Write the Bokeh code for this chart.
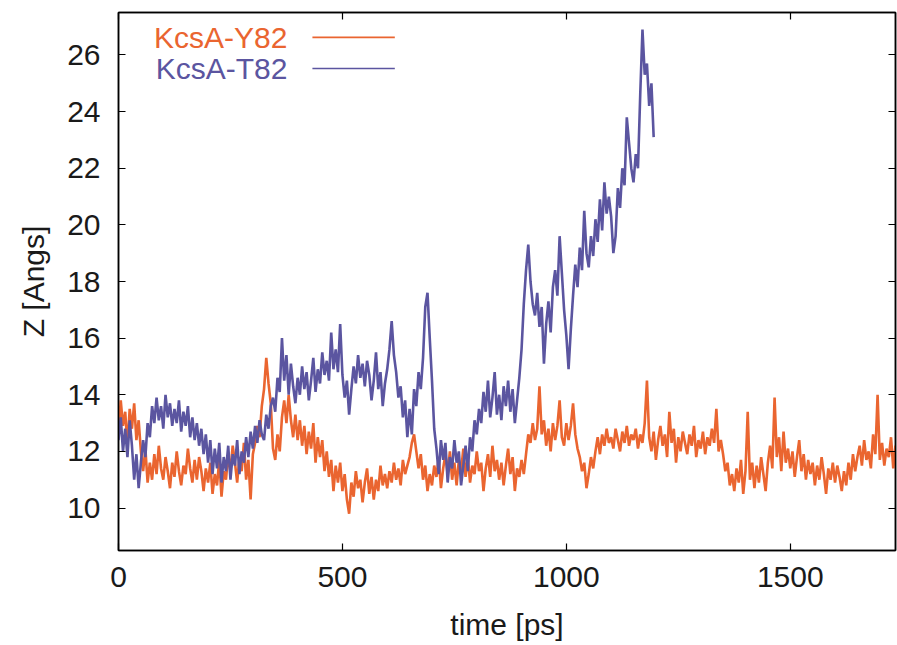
from bokeh.plotting import figure
from bokeh.models import LinearAxis, Range1d, FixedTicker, Label, Arrow
from bokeh.embed import file_html
from bokeh.resources import INLINE

# ---------------- data ----------------
step = 5  # ps
y82_values = [
    12.6,13.8,12.9,13.4,12.2,13.5,12.8,13.7,12.4,13.1,
    12.0,11.3,12.1,10.9,11.6,11.0,11.9,11.2,12.2,11.4,
    11.0,11.8,11.3,10.7,11.6,11.1,12.0,11.3,10.8,11.5,
    11.2,12.1,11.4,10.9,11.7,11.0,11.8,11.3,10.6,11.4,
    10.9,11.6,10.5,11.2,10.8,11.7,10.4,11.3,11.0,11.9,
    11.3,12.2,11.6,10.9,11.8,11.3,12.3,11.0,11.7,10.3,
    11.9,12.3,12.9,12.5,13.6,14.2,15.3,14.4,13.7,12.1,
    11.7,12.6,12.0,13.2,13.8,13.0,14.0,13.1,12.5,13.3,
    12.4,13.1,12.2,12.9,11.9,12.7,12.1,13.0,11.6,12.5,
    11.8,12.4,11.3,12.0,11.1,11.7,10.6,11.5,10.9,11.6,
    10.6,11.2,10.3,9.8,10.9,10.4,11.3,10.7,11.0,10.2,
    10.9,11.4,10.5,11.1,10.3,11.0,10.6,11.5,10.8,11.2,
    10.7,11.3,10.9,11.6,11.0,11.4,10.8,11.7,11.2,11.5,
    11.8,12.3,12.6,12.0,11.4,11.9,11.0,11.5,10.6,11.2,
    10.8,11.5,11.1,11.8,10.7,11.4,11.9,11.2,12.0,11.0,
    11.6,10.8,11.7,11.3,12.1,11.1,11.8,10.9,11.5,11.2,
    12.0,11.3,11.6,10.6,11.4,11.9,11.1,12.2,11.3,11.7,
    11.0,11.6,10.8,11.5,12.1,11.2,11.8,10.6,11.4,11.1,
    11.7,11.2,11.9,12.6,12.3,13.0,12.4,12.8,14.3,12.6,
    13.1,12.2,12.8,12.0,13.0,12.4,12.9,13.8,12.5,12.2,
    13.0,12.4,12.9,13.7,12.6,12.1,11.8,11.3,11.6,10.7,
    11.2,11.8,11.4,12.0,12.5,11.9,12.6,12.2,12.8,12.3,
    12.5,12.1,12.8,12.4,12.0,12.7,12.3,12.9,12.2,12.6,
    12.4,12.8,12.1,12.6,12.3,13.0,14.5,12.5,12.0,12.7,
    11.7,12.4,12.9,12.2,12.6,11.8,13.4,12.3,12.8,11.6,
    12.5,12.0,12.7,12.3,11.9,12.6,12.2,12.9,11.8,12.4,
    12.1,12.7,11.9,12.5,12.2,12.8,12.3,13.5,12.0,12.4,
    11.9,11.3,11.6,10.8,11.2,10.6,11.4,10.9,11.7,10.5,
    11.3,13.4,11.0,11.6,10.7,11.5,10.9,11.8,11.2,10.6,
    11.6,12.2,11.4,13.9,11.8,12.5,11.3,12.7,11.6,12.1,
    11.4,12.0,11.1,11.8,12.4,11.3,11.9,11.0,11.7,11.2,
    11.6,10.8,11.5,11.0,11.8,11.2,10.5,11.4,11.0,11.6,
    10.9,11.5,11.1,10.6,11.3,10.8,11.6,11.0,11.9,11.3,
    11.8,12.2,11.5,12.4,11.7,12.0,11.4,12.6,11.9,14.0,
    11.7,12.3,11.5,12.1,11.8,12.5,11.4,12.2,11.9,
]
t82_values = [
    12.4,13.2,12.0,12.8,11.8,13.1,12.2,11.0,11.9,10.7,
    11.6,12.4,11.8,13.0,12.5,13.6,13.0,13.9,13.1,13.6,
    12.8,14.0,13.2,13.7,12.9,13.5,13.0,13.8,12.7,13.4,
    12.9,13.6,12.5,13.2,12.4,13.0,12.2,12.8,11.9,12.6,
    11.6,12.4,11.2,12.1,11.4,12.3,10.9,11.8,11.3,12.2,
    11.0,11.9,11.5,12.4,11.2,12.0,11.6,12.5,11.8,12.7,
    12.1,12.9,12.3,13.1,12.6,12.4,13.3,12.8,13.6,13.9,
    13.4,14.6,14.1,16.0,14.5,15.4,14.0,15.1,14.3,13.7,
    14.6,14.0,15.0,14.2,14.8,13.8,14.5,15.3,14.1,14.9,
    14.4,15.5,14.7,15.2,14.5,16.2,14.9,15.6,14.8,16.5,
    14.7,13.9,14.5,13.3,14.2,15.0,14.4,15.4,14.6,15.1,
    14.3,15.2,14.7,13.8,14.5,15.5,14.2,14.8,13.6,14.4,
    14.9,15.6,16.6,15.4,14.8,13.9,14.3,13.2,13.8,12.5,
    13.5,12.6,14.2,13.6,14.8,14.2,15.3,17.1,17.6,16.0,
    14.5,12.8,12.1,11.2,12.4,11.7,12.3,10.9,11.8,11.4,
    12.4,11.6,12.0,10.8,11.5,12.2,11.3,12.5,12.0,13.1,
    12.6,13.5,13.0,14.1,13.4,14.5,13.2,13.9,14.8,13.3,
    14.0,13.1,14.3,13.6,14.5,13.4,14.2,13.0,13.8,14.6,
    15.6,17.2,18.4,19.3,18.0,17.2,16.8,17.6,16.4,17.1,
    15.1,16.5,17.3,16.2,17.8,18.4,17.5,19.6,18.3,17.0,
    16.1,14.9,16.3,17.5,18.6,17.8,19.2,18.4,20.5,19.0,
    18.5,19.6,18.9,20.2,19.4,20.9,19.8,21.5,20.4,21.0,
    20.3,19.0,19.6,21.3,20.6,22.0,21.4,23.8,22.9,22.0,
    21.5,22.5,22.0,24.6,26.9,25.3,25.7,24.2,25.0,23.1,
]
y82_time = [i * step for i in range(len(y82_values))]
t82_time = [i * step for i in range(len(t82_values))]

x_ticks = [0, 500, 1000, 1500]
y_ticks = [10, 12, 14, 16, 18, 20, 22, 24, 26]
series_names = ["KcsA-Y82", "KcsA-T82"]

ORANGE = "#EA6530"
BLUE = "#5B55A0"
FONT = "Liberation Sans"
FS = "30px"

p = figure(width=897, height=645, output_backend="svg", toolbar_location=None,
           x_range=Range1d(0, 1735), y_range=Range1d(8.5, 27.5),
           min_border_left=118, min_border_right=2, min_border_top=12,
           min_border_bottom=95)
p.background_fill_color = "white"
p.border_fill_color = "white"
p.outline_line_color = "black"
p.outline_line_width = 1.5
p.xgrid.visible = False
p.ygrid.visible = False

p.line(y82_time, y82_values, line_color=ORANGE, line_width=2.6)
p.line(t82_time, t82_values, line_color=BLUE, line_width=2.6)

def style(ax, labels=True):
    ax.axis_line_color = "black"
    ax.axis_line_width = 1.5
    ax.major_tick_in = 7
    ax.major_tick_out = 0
    ax.major_tick_line_color = "black"
    ax.major_tick_line_width = 1.2
    ax.minor_tick_line_color = None
    ax.major_label_text_font = FONT
    ax.major_label_text_font_size = FS
    ax.major_label_text_color = "#1a1a1a"
    ax.axis_label_text_font = FONT
    ax.axis_label_text_font_size = FS
    ax.axis_label_text_font_style = "normal"
    ax.axis_label_text_color = "#1a1a1a"
    if not labels:
        ax.major_label_text_font_size = "0px"
        ax.major_label_text_color = None

xa = p.xaxis[0]
xa.ticker = FixedTicker(ticks=x_ticks)
xa.axis_label = "time [ps]"
style(xa)
xa.major_label_standoff = 16
xa.axis_label_standoff = 18

ya = p.yaxis[0]
ya.ticker = FixedTicker(ticks=y_ticks)
ya.axis_label = "Z [Angs]"
style(ya)
ya.major_label_standoff = 18
ya.axis_label_standoff = 14

top = LinearAxis(ticker=FixedTicker(ticks=x_ticks))
style(top, labels=False)
p.add_layout(top, "above")
right = LinearAxis(ticker=FixedTicker(ticks=y_ticks))
style(right, labels=False)
p.add_layout(right, "right")

# legend (gnuplot style: text right-aligned, sample line to the right)
leg_y = [26.62, 25.52]
for name, col, yy in zip(series_names, [ORANGE, BLUE], leg_y):
    p.add_layout(Label(x=377, y=yy, text=name, text_align="right",
                       text_baseline="middle", text_font=FONT,
                       text_font_size=FS, text_color=col))
    p.add_layout(Arrow(x_start=433, y_start=yy, x_end=617, y_end=yy,
                       end=None, line_color=col, line_width=1.6))

open("out.html", "w").write(file_html(p, INLINE))
